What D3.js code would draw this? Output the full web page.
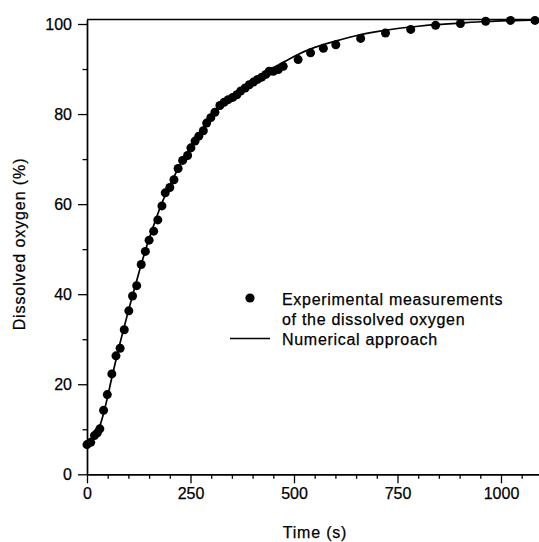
<!DOCTYPE html>
<html>
<head>
<meta charset="utf-8">
<script src="https://cdn.jsdelivr.net/npm/d3@7"></script>
<style>
  html, body { margin: 0; padding: 0; background: #fff; }
  svg { display: block; }
  text { font-family: "Liberation Sans", Arial, Helvetica, sans-serif; fill: #000; }
</style>
</head>
<body>
<svg id="chart" width="539" height="542"></svg>
<script>
// ---- Data ----
const timeExp = [0, 9, 18, 25, 31, 40, 49, 60, 70, 80, 90, 101, 110, 120,
  131, 141, 150, 161, 171, 181, 189, 200, 210, 220, 231, 243, 251, 261, 270, 281,
  289, 299, 309, 321, 331, 341, 352, 362, 371, 382, 392, 402, 412, 422, 432, 440,
  450, 462, 474, 510, 540, 571, 601, 661, 721, 782, 842, 902, 963, 1023, 1082];
const doExp = [6.6, 7.1, 8.6, 9.2, 10.1, 14.2, 17.7, 22.3, 26.3, 28.0, 32.1, 36.3, 39.6, 41.9,
  46.6, 49.5, 52.0, 54.0, 56.5, 59.6, 62.5, 63.7, 65.4, 67.9, 69.7, 70.8, 72.5, 74.0, 75.1, 76.3,
  78.0, 79.2, 80.4, 81.9, 82.6, 83.2, 83.7, 84.3, 85.1, 85.8, 86.5, 87.1, 87.7, 88.2, 88.8, 89.5,
  89.5, 89.9, 90.6, 92.1, 93.6, 94.6, 95.4, 96.8, 98.0, 98.8, 99.7, 100.1, 100.6, 100.8, 100.8];

const timeNum = [0, 10, 20, 30, 40, 50, 60, 70, 80, 90, 100, 110, 120, 130, 140, 150, 160, 170, 180,
  200, 220, 240, 260, 280, 300, 320, 340, 360, 380, 400, 420, 440, 460, 480, 500,
  550, 600, 650, 700, 750, 800, 850, 900, 950, 1000, 1050, 1100];
const doNum = [6.5, 7.3, 8.6, 10.5, 13.5, 17.3, 21.5, 25.4, 29.2, 32.8, 36.3, 39.7, 43.0, 46.3, 49.4, 52.3, 55.0, 57.6, 60.0,
  64.2, 67.9, 71.2, 74.2, 77.0, 79.4, 81.5, 83.1, 84.6, 86.0, 87.3, 88.6, 89.7, 90.8, 91.8, 92.8,
  94.8, 96.2, 97.4, 98.3, 99.0, 99.5, 99.9, 100.2, 100.5, 100.7, 100.8, 100.9];

const xMajorTicks = [0, 250, 500, 750, 1000];
const xMinorTicks = [50, 100, 150, 200, 300, 350, 400, 450, 550, 600, 650, 700, 800, 850, 900, 950, 1050];
const yMajorTicks = [0, 20, 40, 60, 80, 100];
const yMinorTicks = [10, 30, 50, 70, 90];

const legendLabels = ["Experimental measurements", "of the dissolved oxygen", "Numerical approach"];
const xTitle = "Time (s)";
const yTitle = "Dissolved oxygen (%)";

// ---- Scales ----
const svg = d3.select("#chart");
const x = d3.scaleLinear().domain([0, 1100]).range([87, 542.4]);
const y = d3.scaleLinear().domain([0, 101]).range([474.3, 19.5]);

// ---- Axes ----
const fmt = d3.format("d");
const xMajor = d3.axisBottom(x).tickValues(xMajorTicks).tickFormat(fmt).tickSize(9).tickSizeOuter(0).tickPadding(4);
const xMinor = d3.axisBottom(x).tickValues(xMinorTicks).tickSize(4.5).tickSizeOuter(0).tickFormat("");
const yMajor = d3.axisLeft(y).tickValues(yMajorTicks).tickFormat(fmt).tickSize(9).tickSizeOuter(0).tickPadding(6);
const yMinor = d3.axisLeft(y).tickValues(yMinorTicks).tickSize(4.5).tickSizeOuter(0).tickFormat("");

function style(g) {
  g.selectAll("path.domain").attr("stroke", "#000").attr("stroke-width", 1.4);
  g.selectAll(".tick line").attr("stroke", "#000").attr("stroke-width", 1.3);
  g.selectAll(".tick text").attr("font-size", 16).attr("font-family", '"Liberation Sans", Arial, sans-serif')
    .attr("fill", "#000").attr("stroke", "#000").attr("stroke-width", 0.25);
}

svg.append("g").attr("transform", `translate(0,${y(0)})`).call(xMinor).call(style);
svg.append("g").attr("transform", `translate(0,${y(0)})`).call(xMajor).call(style);
svg.append("g").attr("transform", `translate(${x(0)},0)`).call(yMinor).call(style);
svg.append("g").attr("transform", `translate(${x(0)},0)`).call(yMajor).call(style);

// top frame line
svg.append("line")
  .attr("x1", x(0)).attr("x2", x(1100))
  .attr("y1", y(101)).attr("y2", y(101))
  .attr("stroke", "#000").attr("stroke-width", 1.4);

// ---- Numerical line ----
const line = d3.line()
  .x((d, i) => x(timeNum[i]))
  .y((d, i) => y(doNum[i]))
  .curve(d3.curveMonotoneX);
svg.append("path")
  .attr("d", line(doNum))
  .attr("fill", "none")
  .attr("stroke", "#000")
  .attr("stroke-width", 1.7);

// ---- Experimental points ----
svg.append("g").selectAll("circle")
  .data(doExp)
  .join("circle")
  .attr("cx", (d, i) => x(timeExp[i]))
  .attr("cy", d => y(d))
  .attr("r", 4.5)
  .attr("fill", "#000");

// ---- Axis titles ----
svg.append("text")
  .attr("x", 315).attr("y", 538)
  .attr("text-anchor", "middle")
  .attr("font-size", 16)
  .attr("letter-spacing", 0.8)
  .attr("stroke", "#000").attr("stroke-width", 0.25)
  .text(xTitle);

svg.append("text")
  .attr("transform", "translate(25,244) rotate(-90)")
  .attr("text-anchor", "middle")
  .attr("font-size", 16)
  .attr("letter-spacing", 0.9)
  .attr("stroke", "#000").attr("stroke-width", 0.25)
  .text(yTitle);

// ---- Legend ----
const lg = svg.append("g");
lg.append("circle").attr("cx", 250).attr("cy", 298).attr("r", 4.6).attr("fill", "#000");
lg.append("line").attr("x1", 230).attr("x2", 270).attr("y1", 338.5).attr("y2", 338.5)
  .attr("stroke", "#000").attr("stroke-width", 1.5);
const baselines = [304.5, 324.5, 345];
lg.selectAll("text.leg")
  .data(legendLabels)
  .join("text")
  .attr("class", "leg")
  .attr("x", 282)
  .attr("y", (d, i) => baselines[i])
  .attr("font-size", 16)
  .attr("letter-spacing", 0.7)
  .attr("stroke", "#000").attr("stroke-width", 0.25)
  .text(d => d);
</script>
</body>
</html>
